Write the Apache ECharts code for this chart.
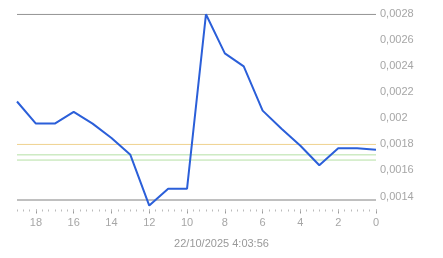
<!DOCTYPE html>
<html><head><meta charset="utf-8">
<script src="https://cdn.jsdelivr.net/npm/echarts@6/dist/echarts.min.js"></script>
<style>html,body{margin:0;padding:0;background:#fff}#c{width:443px;height:258px}</style>
</head><body><div id="c"></div>
<script>
const xValues = [19,18,17,16,15,14,13,12,11,10,9,8,7,6,5,4,3,2,1,0];
const yValues = [0.00213,0.00196,0.00196,0.00205,0.00196,0.00185,0.00172,0.00133,0.00146,0.00146,0.0028,0.0025,0.00240,0.00206,0.00192,0.00179,0.00164,0.00177,0.00177,0.00176];
const majorTicks = [0,2,4,6,8,10,12,14,16,18];
const grayLines = [0.0028, 0.001373];
const orangeLines = [0.0018];
const greenLines = [0.00172, 0.00168];
const xTitle = '22/10/2025 4:03:56';

const chart = echarts.init(document.getElementById('c'), null, {renderer:'canvas'});
const font = 'Arial, "Liberation Sans", sans-serif';
const xMin = 0, xMax = 19;
const refSeries = (vals, color) => vals.map(v => ({
  type: 'line', z: 1, silent: true, symbol: 'none', showSymbol: false,
  data: [[xMin, v], [xMax, v]],
  lineStyle: {color: color, width: 1}
}));
const points = xValues.map((x, i) => [x, yValues[i]]);
chart.setOption({
  animation: false,
  grid: {left: 17, right: 67, top: 14.3, bottom: 48.5},
  title: {text: xTitle, left: 'center', top: 233,
    textStyle: {fontFamily: font, fontSize: 11, fontWeight: 'normal', color: '#999'}},
  xAxis: [{
    type: 'value', min: xMin, max: xMax, inverse: true,
    axisLine: {show: false}, splitLine: {show: false},
    axisTick: {show: true, length: 4, customValues: majorTicks, lineStyle: {color: '#999'}},
    axisLabel: {customValues: majorTicks, margin: 8, color: '#a6a6a6', fontFamily: font, fontSize: 11}
  },{
    type: 'value', min: xMin, max: xMax, inverse: true, interval: 1, position: 'bottom',
    axisLine: {show: false}, splitLine: {show: false}, axisLabel: {show: false},
    axisTick: {show: true, length: 2, lineStyle: {color: '#bbb'}},
    minorTick: {show: true, splitNumber: 3, length: 2, lineStyle: {color: '#bbb'}}
  }],
  yAxis: {
    type: 'value', position: 'right', min: 0.0013, max: 0.0028, interval: 0.0001,
    axisLine: {show: false}, axisTick: {show: false}, splitLine: {show: false},
    axisLabel: {margin: 4, color: '#a6a6a6', fontFamily: font, fontSize: 11, padding: [0,0,4,0],
      formatter: v => (Math.round(v*10000) % 2 === 0) ? String(+v.toFixed(4)).replace('.', ',') : ''}
  },
  series: [].concat(
    refSeries(grayLines, '#808080'),
    refSeries(orangeLines, '#efd28f'),
    refSeries(greenLines, '#b5e0a5'),
    [{
      type: 'line', z: 3, showSymbol: false, symbol: 'none',
      data: points,
      lineStyle: {color: '#2b5fd9', width: 2}, itemStyle: {color: '#2b5fd9'}
    }]
  )
});
</script></body></html>
